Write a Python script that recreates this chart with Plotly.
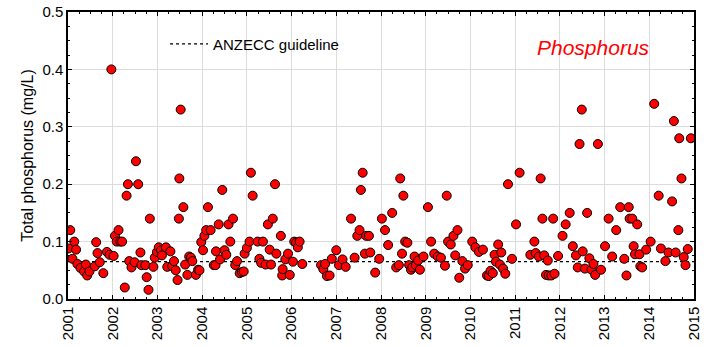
import plotly.graph_objects as go

# Sampling dates (decimal years) and total phosphorus (mg/L)
years = [
    2001.01, 2001.05, 2001.10, 2001.14, 2001.18, 2001.21, 2001.28, 2001.36, 2001.40, 2001.43,
    2001.48, 2001.60, 2001.63, 2001.66, 2001.71, 2001.79, 2001.87, 2001.93, 2001.97, 2002.02,
    2002.05, 2002.09, 2002.13, 2002.17, 2002.21, 2002.27, 2002.31, 2002.34, 2002.37, 2002.42,
    2002.49, 2002.52, 2002.57, 2002.62, 2002.64, 2002.73, 2002.76, 2002.80, 2002.83, 2002.91,
    2002.94, 2002.99, 2003.03, 2003.08, 2003.10, 2003.19, 2003.22, 2003.29, 2003.33, 2003.37,
    2003.41, 2003.45, 2003.48, 2003.49, 2003.52, 2003.58, 2003.62, 2003.67, 2003.71, 2003.75,
    2003.78, 2003.86, 2003.91, 2003.94, 2003.98, 2004.02, 2004.05, 2004.09, 2004.13, 2004.19,
    2004.26, 2004.30, 2004.31, 2004.37, 2004.40, 2004.45, 2004.50, 2004.54, 2004.59, 2004.63,
    2004.69, 2004.74, 2004.78, 2004.84, 2004.89, 2004.93, 2004.95, 2005.00, 2005.06, 2005.09,
    2005.13, 2005.24, 2005.28, 2005.32, 2005.36, 2005.42, 2005.47, 2005.51, 2005.54, 2005.58,
    2005.63, 2005.66, 2005.76, 2005.79, 2005.80, 2005.86, 2005.92, 2005.96, 2006.03, 2006.06,
    2006.10, 2006.14, 2006.18, 2006.24, 2006.66, 2006.71, 2006.75, 2006.79, 2006.85, 2006.90,
    2007.00, 2007.06, 2007.14, 2007.21, 2007.33, 2007.41, 2007.47, 2007.52, 2007.55, 2007.59,
    2007.64, 2007.67, 2007.73, 2007.76, 2007.87, 2007.96, 2008.02, 2008.09, 2008.16, 2008.25,
    2008.34, 2008.40, 2008.43, 2008.47, 2008.50, 2008.54, 2008.59, 2008.63, 2008.67, 2008.70,
    2008.75, 2008.78, 2008.83, 2008.87, 2008.95, 2009.05, 2009.12, 2009.19, 2009.27, 2009.34,
    2009.43, 2009.47, 2009.50, 2009.56, 2009.62, 2009.66, 2009.71, 2009.75, 2009.82, 2009.88,
    2009.94, 2010.04, 2010.11, 2010.19, 2010.28, 2010.37, 2010.41, 2010.45, 2010.50, 2010.54,
    2010.57, 2010.62, 2010.66, 2010.69, 2010.73, 2010.78, 2010.84, 2010.93, 2011.02, 2011.10,
    2011.34, 2011.43, 2011.46, 2011.53, 2011.57, 2011.61, 2011.65, 2011.69, 2011.73, 2011.75,
    2011.81, 2011.85, 2011.88, 2011.96, 2012.06, 2012.13, 2012.22, 2012.29, 2012.36, 2012.40,
    2012.44, 2012.49, 2012.51, 2012.56, 2012.61, 2012.66, 2012.71, 2012.75, 2012.79, 2012.85,
    2012.92, 2013.01, 2013.09, 2013.17, 2013.26, 2013.35, 2013.44, 2013.49, 2013.54, 2013.56,
    2013.62, 2013.65, 2013.68, 2013.73, 2013.78, 2013.80, 2013.84, 2013.93, 2014.03, 2014.11,
    2014.21, 2014.26, 2014.36, 2014.43, 2014.51, 2014.55, 2014.59, 2014.65, 2014.67, 2014.72,
    2014.77, 2014.81, 2014.86, 2014.93,
]
phosphorus = [
    0.088, 0.12, 0.070, 0.10, 0.086, 0.061, 0.054, 0.048, 0.060, 0.041,
    0.048, 0.057, 0.099, 0.080, 0.064, 0.045, 0.082, 0.077, 0.40, 0.075,
    0.11, 0.10, 0.12, 0.10, 0.10, 0.020, 0.18, 0.20, 0.066, 0.055,
    0.064, 0.24, 0.20, 0.081, 0.059, 0.059, 0.038, 0.016, 0.14, 0.056,
    0.072, 0.082, 0.090, 0.085, 0.076, 0.090, 0.056, 0.083, 0.057, 0.066,
    0.050, 0.033, 0.14, 0.21, 0.33, 0.16, 0.060, 0.042, 0.074, 0.072,
    0.066, 0.042, 0.051, 0.050, 0.099, 0.085, 0.11, 0.12, 0.16, 0.12,
    0.059, 0.059, 0.083, 0.13, 0.069, 0.19, 0.085, 0.077, 0.13, 0.10,
    0.14, 0.059, 0.066, 0.045, 0.047, 0.048, 0.079, 0.089, 0.10, 0.22,
    0.18, 0.10, 0.070, 0.063, 0.10, 0.060, 0.13, 0.086, 0.060, 0.14,
    0.20, 0.079, 0.11, 0.041, 0.052, 0.069, 0.079, 0.042, 0.065, 0.10,
    0.098, 0.090, 0.10, 0.061, 0.059, 0.052, 0.061, 0.040, 0.041, 0.070,
    0.085, 0.059, 0.069, 0.056, 0.14, 0.072, 0.11, 0.12, 0.19, 0.22,
    0.079, 0.11, 0.11, 0.081, 0.046, 0.070, 0.14, 0.12, 0.094, 0.15,
    0.055, 0.059, 0.21, 0.079, 0.18, 0.10, 0.098, 0.059, 0.051, 0.055,
    0.074, 0.059, 0.067, 0.051, 0.074, 0.16, 0.10, 0.079, 0.074, 0.072,
    0.058, 0.18, 0.10, 0.095, 0.11, 0.076, 0.12, 0.037, 0.066, 0.053,
    0.059, 0.10, 0.090, 0.082, 0.086, 0.041, 0.040, 0.049, 0.045, 0.077,
    0.065, 0.095, 0.060, 0.081, 0.053, 0.044, 0.20, 0.070, 0.13, 0.22,
    0.077, 0.10, 0.080, 0.074, 0.21, 0.14, 0.076, 0.042, 0.067, 0.041,
    0.041, 0.14, 0.044, 0.075, 0.11, 0.13, 0.15, 0.092, 0.076, 0.055,
    0.27, 0.33, 0.083, 0.053, 0.15, 0.071, 0.051, 0.061, 0.042, 0.27,
    0.051, 0.092, 0.14, 0.074, 0.12, 0.16, 0.070, 0.041, 0.16, 0.14,
    0.14, 0.092, 0.078, 0.13, 0.078, 0.057, 0.055, 0.086, 0.10, 0.34,
    0.18, 0.088, 0.066, 0.081, 0.17, 0.31, 0.081, 0.12, 0.28, 0.21,
    0.073, 0.059, 0.087, 0.28,
]

guideline_value = 0.065
x_range = [2001, 2015]
year_ticks = list(range(2001, 2016))
y_ticks = [0.0, 0.1, 0.2, 0.3, 0.4, 0.5]
y_tick_labels = ["0.0", "0.1", "0.2", "0.3", "0.4", "0.5"]

FONT = "Liberation Sans, Arial, sans-serif"

fig = go.Figure()
fig.add_trace(go.Scatter(
    x=x_range, y=[guideline_value, guideline_value], mode="lines",
    line=dict(color="black", width=1.2, dash="3px,3px"),
    name="ANZECC guideline", showlegend=True, hoverinfo="skip",
))
fig.add_trace(go.Scatter(
    x=years, y=phosphorus, mode="markers",
    marker=dict(color="#ff0000", size=9, line=dict(color="black", width=1)),
    name="Total phosphorus", showlegend=False,
))

fig.add_annotation(
    x=0.84, y=0.878, xref="paper", yref="paper", text="<i>Phosphorus</i>",
    showarrow=False, font=dict(family=FONT, size=21, color="#ff0000"),
    xanchor="center", yanchor="middle",
)

axis_common = dict(
    showline=True, linecolor="black", linewidth=1.5, mirror="ticks",
    showgrid=True, gridcolor="#dcdcdc", gridwidth=1,
    ticks="inside", ticklen=4, tickcolor="black",
    zeroline=False, automargin=False,
    tickfont=dict(family=FONT, size=15, color="black"),
)

fig.update_layout(
    width=710, height=347,
    margin=dict(l=68, r=16, t=12, b=48),
    plot_bgcolor="white", paper_bgcolor="white",
    font=dict(family=FONT, size=15, color="black"),
    showlegend=True,
    legend=dict(x=0.155, y=0.888, xanchor="left", yanchor="middle", itemwidth=38,
                bgcolor="rgba(0,0,0,0)", font=dict(family=FONT, size=15)),
    xaxis=dict(
        range=x_range, tickmode="array", tickvals=year_ticks,
        ticktext=[str(y) for y in year_ticks], tickangle=-90,
        minor=dict(ticks="inside", dtick=0.25, tick0=2001, ticklen=2, tickcolor="black", showgrid=False),
        **axis_common,
    ),
    yaxis=dict(
        range=[0, 0.5], tickmode="array", tickvals=y_ticks, ticktext=y_tick_labels,
        title=dict(text="Total phosphorus (mg/L)", font=dict(family=FONT, size=16), standoff=5),
        minor=dict(ticks="inside", dtick=0.025, tick0=0, ticklen=2, tickcolor="black", showgrid=False),
        **axis_common,
    ),
)

# Remove the page's default body margin so the figure fills the window exactly.
fig.write_html(
    "out.html",
    config={"displayModeBar": False},
    post_script="document.body.style.margin='0px';",
)
